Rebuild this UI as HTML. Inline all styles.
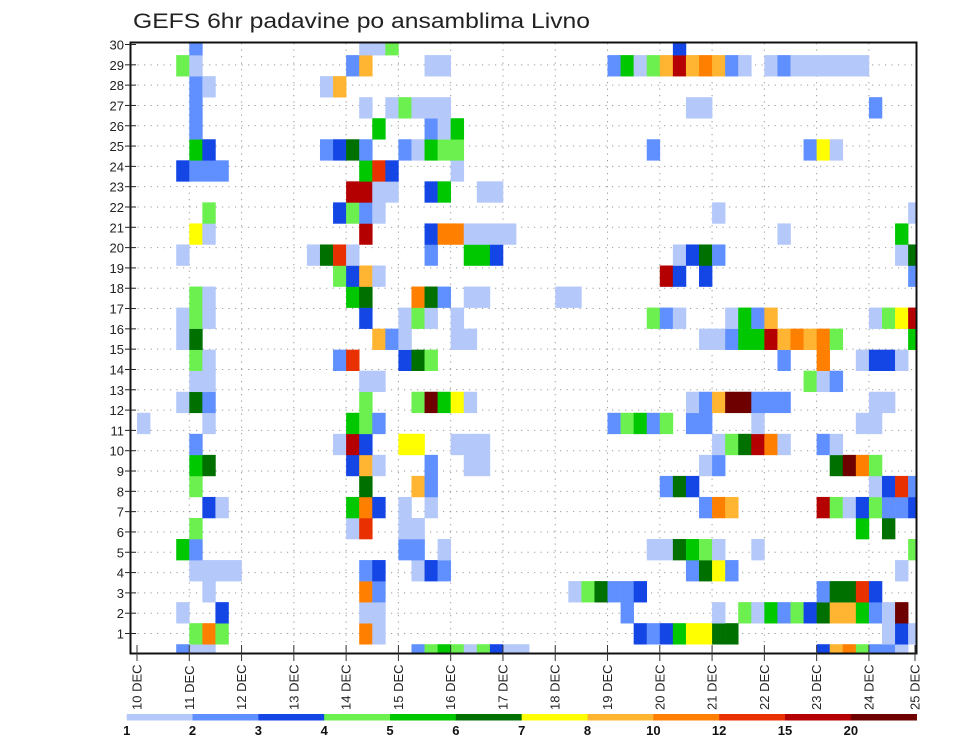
<!DOCTYPE html>
<html><head><meta charset="utf-8"><style>
html,body{margin:0;padding:0;background:#fff;}
svg{display:block;font-family:"Liberation Sans",sans-serif;}
</style></head><body>
<svg id="chart" width="960" height="742" viewBox="0 0 960 742" xmlns="http://www.w3.org/2000/svg">
<text x="133" y="28" font-size="21" fill="#222" textLength="457" lengthAdjust="spacingAndGlyphs">GEFS 6hr padavine po ansamblima Livno</text>
<g id="grid"></g>
<g id="cells"></g>
<rect x="130.5" y="42.5" width="786" height="611" fill="none" stroke="#111" stroke-width="2"/>
<g id="axes"></g>
<g id="cbar"></g>
</svg>
<script>
// ---- data ----
const dayLabels=["10","11","12","13","14","15","16","17","18","19","20","21","22","23","24","25"];
const memberLabels=[1,2,3,4,5,6,7,8,9,10,11,12,13,14,15,16,17,18,19,20,21,22,23,24,25,26,27,28,29,30];
const levelBounds=[1,2,3,4,5,6,7,8,10,12,15,20];
const levelColors=["#b4c8fa","#6090ff","#1446e6","#6cf050","#00c800","#007000","#ffff00","#ffb432","#ff8000","#e83000","#b40000","#6e0000"];
const codeValues={"1":1.5,"2":2.5,"3":3.5,"4":4.5,"5":5.5,"6":6.5,"7":7.5,"8":9,"9":11,"a":13,"b":17,"c":25};
// per ensemble member: "timestepIndex:code" (6-hourly steps from 10 DEC 00Z)
const memberCells=[
"3:2 4:1 5:1 21:2 22:4 23:5 24:4 25:1 26:4 27:3 28:1 29:1 52:3 53:8 54:9 55:4 56:2 57:2 58:1",
"4:4 5:9 6:4 17:9 18:1 38:3 39:2 40:3 41:5 42:7 43:7 44:6 45:6 57:1 58:3 59:1",
"3:1 6:3 17:1 18:1 37:2 44:1 46:4 47:1 48:5 49:2 50:4 51:3 52:6 53:8 54:8 55:5 56:2 57:1 58:c",
"5:1 17:9 18:2 33:1 34:4 35:6 36:2 37:2 38:3 52:2 53:6 54:6 55:a 56:3",
"4:1 5:1 6:1 7:1 17:2 18:3 21:1 22:3 23:2 42:2 43:6 44:7 45:2 58:1",
"3:5 4:2 20:2 21:2 23:1 39:1 40:1 41:6 42:5 43:4 44:1 47:1 59:4",
"4:4 16:1 17:a 20:1 21:1 55:5 57:6",
"5:3 6:1 16:5 17:9 18:3 20:1 22:1 43:2 44:9 45:8 52:b 53:4 54:1 55:3 56:4 57:2 58:2 59:3",
"4:4 17:6 21:8 22:2 40:2 41:6 42:3 56:1 57:3 58:a 59:2",
"4:5 5:6 16:3 17:8 18:1 22:2 25:1 26:1 43:1 44:2 53:6 54:c 55:9 56:4",
"4:2 15:1 16:b 17:3 20:7 21:7 24:1 25:1 26:1 44:1 45:4 46:6 47:b 48:9 49:1 52:2 53:1",
"0:1 5:1 16:5 17:4 18:2 36:2 37:4 38:5 39:2 40:4 42:2 43:2 47:1 55:1 56:1",
"3:1 4:6 5:2 17:4 21:4 22:c 23:5 24:7 25:1 42:1 43:2 44:8 45:c 46:c 47:2 48:2 49:2 56:1 57:1",
"4:1 5:1 17:1 18:1 51:4 52:1 53:2",
"4:4 5:1 15:2 16:a 20:3 21:6 22:4 49:2 52:9 55:1 56:3 57:3 58:1",
"3:1 4:6 18:8 19:2 20:1 24:1 25:1 43:1 44:1 45:2 46:5 47:5 48:b 49:8 50:9 51:8 52:9 53:4 59:5",
"3:1 4:4 5:1 17:3 20:1 21:4 22:1 24:1 39:4 40:2 41:1 45:1 46:5 47:2 48:8 56:1 57:4 58:7 59:b",
"4:4 5:1 16:5 17:6 21:9 22:6 23:2 25:1 26:1 32:1 33:1",
"15:4 16:3 17:8 18:1 40:b 41:3 43:3 59:2",
"3:1 13:1 14:6 15:a 16:1 22:2 25:5 26:5 27:3 41:1 42:3 43:6 44:2 58:1 59:6",
"4:7 5:1 17:b 22:3 23:9 24:9 25:1 26:1 27:1 28:1 49:1 58:5",
"5:4 15:3 16:4 17:2 18:1 44:1 59:1",
"16:b 17:b 18:1 19:1 22:3 23:5 26:1 27:1",
"3:3 4:2 5:2 6:2 17:5 18:a 19:3 24:1",
"4:5 5:3 14:2 15:3 16:6 17:2 20:2 21:1 22:5 23:4 24:4 39:2 51:2 52:7 53:1",
"4:2 18:5 22:2 23:1 24:5",
"4:2 17:1 19:1 20:4 21:1 22:1 23:1 42:1 43:1 56:2",
"4:2 5:1 14:1 15:8",
"3:4 4:1 16:2 17:8 22:1 23:1 36:2 37:5 38:1 39:4 40:8 41:b 42:8 43:9 44:8 45:2 46:1 48:1 49:2 50:1 51:1 52:1 53:1 54:1 55:1",
"4:2 17:1 18:1 19:4 41:3"
];
// ---- layout ----
const NS="http://www.w3.org/2000/svg";
const X0=137, DAYW=52.28, STEPW=DAYW/4;
const PL=131, PR=916, PT=43, PB=654;
const CELL0=633.7, CELLH=21.04; // member cell rows
const LAB0=633.5, LABH=20.31;   // axis label rows
function xStep(k){return X0+k*STEPW;}
function xDay(d){return X0+d*DAYW;}
function yCell(m){return CELL0-(m-1)*CELLH;}
function yLab(m){return LAB0-(m-1)*LABH;}
function colorFor(v){let i=0;for(let j=0;j<levelBounds.length;j++){if(v>=levelBounds[j])i=j;}return levelColors[i];}
function mk(tag,attrs,parent){const e=document.createElementNS(NS,tag);for(const k in attrs)e.setAttribute(k,attrs[k]);parent.appendChild(e);return e;}

const grid=document.getElementById('grid');
for(let m=1;m<=29;m++){
  const l=mk('line',{x1:PL,x2:PR,y1:yLab(m),y2:yLab(m),stroke:"#9a9a9a","stroke-width":1,"stroke-dasharray":"1.2,5.3"},grid);
  
  
}
for(let d=1;d<dayLabels.length;d++){
  const x=xDay(d); if(x>=PR) continue;
  const l=mk('line',{x1:x,x2:x,y1:PT,y2:PB,stroke:"#9a9a9a","stroke-width":1,"stroke-dasharray":"1.2,5.3"},grid);
  
  
}

const cg=document.getElementById('cells');
memberCells.forEach((str,m)=>{
  str.split(' ').forEach(tok=>{
    const [ks,c]=tok.split(':'); const k=+ks; const v=codeValues[c];
    let x=xStep(k), w=STEPW, yc=yCell(m), y=yc-CELLH/2, h=CELLH;
    if(x+w>PR) w=PR-x;
    if(y<PT){h-=PT-y;y=PT;}
    if(y+h>PB) h=PB-y;
    if(w<=0||h<=0) return;
    const r=mk('rect',{x:x.toFixed(2),y:y.toFixed(2),width:(w+0.3).toFixed(2),height:(h+0.3).toFixed(2),fill:colorFor(v)},cg);
    
    
  });
});

const ax=document.getElementById('axes');
memberLabels.forEach(m=>{
  const y=yLab(m);
  const t=mk('line',{x1:125,x2:136,y1:y,y2:y,stroke:"#222","stroke-width":1},ax);
  
  
  const tx=mk('text',{x:124,y:y+5,"font-size":13,"text-anchor":"end",fill:"#222"},ax);
  tx.textContent=m;
  
  
});
dayLabels.forEach((d,i)=>{
  let x=xDay(i); if(x>PR) x=PR-1;
  const t=mk('line',{x1:x,x2:x,y1:645,y2:661,stroke:"#333","stroke-width":1},ax);
  
  
  const tx=mk('text',{x:0,y:0,"font-size":13,fill:"#222",transform:`translate(${x+4.5},710) rotate(-90)`},ax);
  tx.textContent=d+"  DEC";
  
  
});

const cb=document.getElementById('cbar');
const CB0=126.7, CBW=65.83;
levelColors.forEach((c,i)=>{
  const r=mk('rect',{x:CB0+i*CBW,y:714,width:CBW+0.3,height:6.5,fill:c},cb);
  
  
});
levelBounds.forEach((b,i)=>{
  const t=mk('text',{x:CB0+i*CBW,y:735,"font-size":13,"font-weight":"bold","text-anchor":"middle",fill:"#111"},cb);
  t.textContent=b;
  
  
});
</script>
</body></html>
